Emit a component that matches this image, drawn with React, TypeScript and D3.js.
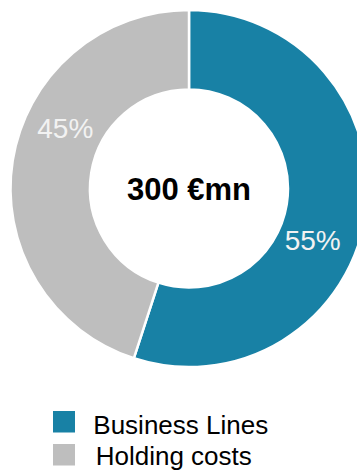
import React from "react";
import * as d3 from "d3";

const categories = ["Business Lines", "Holding costs"];
const values = [55, 45];
const labels = ["55%", "45%"];
const colors = ["#1881a5", "#bebebe"];
const centerLabel = "300 €mn";

const W = 357;
const H = 471;

export default function App() {
  const cx = 189;
  const cy = 188.5;
  const outerR = 178.5;
  const innerR = 99;
  const pie = d3.pie<number>().sort(null).value((d) => d)(values);
  const arc = d3.arc<d3.PieArcDatum<number>>().innerRadius(innerR).outerRadius(outerR);
  const labelR = 136;
  const labelOffset = (15.5 * Math.PI) / 180;
  const font = "Liberation Sans, Arial, sans-serif";
  return (
    <svg width={W} height={H} style={{ position: "absolute", left: 0, top: 0 }}>
      <g transform={`translate(${cx},${cy})`}>
        {pie.map((p, i) => (
          <path key={i} d={arc(p) || ""} fill={colors[i]} stroke="#ffffff" strokeWidth={2.5} />
        ))}
        {pie.map((p, i) => {
          const a = (p.startAngle + p.endAngle) / 2 + labelOffset;
          const x = labelR * Math.sin(a);
          const y = -labelR * Math.cos(a);
          return (
            <text key={i} x={x} y={y} dy="0.2em" textAnchor="middle" fill="#f2f2f2"
              fontFamily={font} fontSize={28}>
              {labels[i]}
            </text>
          );
        })}
        <text x={0} y={0} dy="0.36em" textAnchor="middle" fill="#000" fontFamily={font}
          fontWeight="bold" fontSize={31}>
          {centerLabel}
        </text>
      </g>
      {categories.map((c, i) => (
        <g key={c}>
          <rect x={53} y={411 + i * 33} width={22} height={21.5} fill={colors[i]} />
          <text x={93.3 + i * 2.4} y={434 + i * 31.3} fill="#000" fontFamily={font} fontSize={26}>
            {c}
          </text>
        </g>
      ))}
    </svg>
  );
}
